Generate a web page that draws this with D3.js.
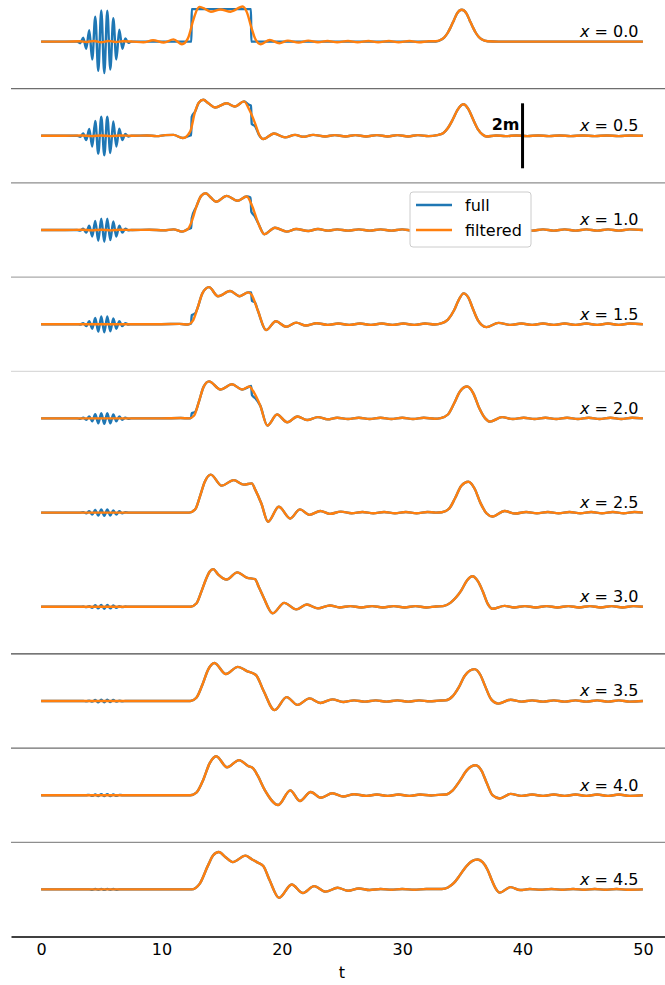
<!DOCTYPE html>
<html>
<head>
<meta charset="utf-8">
<script src="https://cdn.jsdelivr.net/npm/d3@7"></script>
<style>
  html, body { margin: 0; padding: 0; background: #fff; }
  svg { display: block; font-family: "DejaVu Sans", sans-serif; }
</style>
</head>
<body>
<div id="chart"></div>
<script>
// Stations along the channel, one panel each
const positions = [0.0, 0.5, 1.0, 1.5, 2.0, 2.5, 3.0, 3.5, 4.0, 4.5];
const xTicks = [0, 10, 20, 30, 40, 50];
const seriesNames = ["full", "filtered"];
const seriesColors = ["#1f77b4", "#ff7f0e"];
// shade of the rule under each panel (last one is the time axis)
const ruleShades = ["#6e6e6e", "#8e8e8e", "#aaaaaa", "#dadada", "#ffffff", "#ffffff", "#484848", "#6e6e6e", "#8e8e8e"];

// High-frequency packet of the full signal: sample times and values per station
const packetT = [3.0, 3.25, 3.5, 3.75, 4.0, 4.25, 4.5, 4.75, 5.0, 5.25, 5.5, 5.75, 6.0, 6.25, 6.5, 6.75, 7.0, 7.25, 7.5];
const packet0 = [0, -0.05, 0.12, -0.22, 0.35, -0.55, 0.77, -0.9, 0.96, -0.97, 0.95, -0.86, 0.72, -0.55, 0.37, -0.22, 0.1, -0.04, 0];
const packet1 = [0, -0.03, 0.07, -0.13, 0.21, -0.33, 0.46, -0.55, 0.59, -0.6, 0.59, -0.53, 0.44, -0.33, 0.22, -0.13, 0.06, -0.02, 0];
const packet2 = [0, -0.02, 0.04, -0.08, 0.13, -0.2, 0.28, -0.33, 0.35, -0.36, 0.35, -0.31, 0.26, -0.2, 0.13, -0.08, 0.04, -0.01, 0];
const packet3 = [0, -0.01, 0.03, -0.06, 0.09, -0.14, 0.19, -0.23, 0.24, -0.25, 0.24, -0.22, 0.18, -0.14, 0.09, -0.06, 0.03, -0.01, 0];
const packet4 = [0, -0.01, 0.02, -0.04, 0.06, -0.09, 0.13, -0.15, 0.16, -0.17, 0.16, -0.15, 0.12, -0.09, 0.06, -0.04, 0.02, -0.01, 0];
const packet5 = [0, 0, 0.01, -0.02, 0.04, -0.06, 0.08, -0.09, 0.1, -0.1, 0.1, -0.09, 0.07, -0.06, 0.04, -0.02, 0.01, 0, 0];
const packet6 = [0, 0, 0.01, -0.01, 0.02, -0.03, 0.05, -0.05, 0.06, -0.06, 0.06, -0.05, 0.04, -0.03, 0.02, -0.01, 0.01, 0, 0];
const packet7 = [0, 0, 0, -0.01, 0.01, -0.02, 0.03, -0.04, 0.04, -0.04, 0.04, -0.03, 0.03, -0.02, 0.01, -0.01, 0, 0, 0];
const packet8 = [0, 0, 0, 0, 0.01, -0.02, 0.02, -0.03, 0.03, -0.03, 0.03, -0.03, 0.02, -0.02, 0.01, 0, 0, 0, 0];
const packet9 = [0, 0, 0, 0, 0, -0.01, 0.01, -0.01, 0.015, -0.015, 0.015, -0.01, 0.01, -0.01, 0, 0, 0, 0, 0];

// Full signal at the inlet (box + gaussian, packet added separately)
const fullInlet = [[0,0],[2.9,0],[7.6,0],[12.49,0],[12.51,1.0],[17.44,1.0],[17.46,0],[32.8,0],[33.3,0.07],[33.55,0.15],[33.8,0.28],[34.05,0.46],[34.3,0.66],[34.55,0.86],[34.95,0.98],[35.35,0.86],[35.6,0.66],[35.85,0.46],[36.1,0.28],[36.35,0.15],[36.6,0.07],[37.1,0.01],[38,0],[50,0]];

// Filtered signal, [t, elevation] per station
const filtered0 = [[0,0],[2,0],[3.2,0.01],[3.8,-0.01],[4.4,0.02],[5.0,-0.02],[5.6,0.02],[6.2,-0.01],[6.8,0.01],[7.6,0],[8.5,-0.02],[9.3,0.04],[10.2,-0.03],[11.0,0.07],[11.7,-0.08],[12.2,0.1],[12.65,0.67],[12.95,0.98],[13.15,1.07],[13.5,1.03],[14.1,0.92],[14.9,0.99],[15.75,0.92],[16.75,1.08],[17.1,0.9],[17.45,0.46],[17.8,0.08],[18.25,-0.08],[19.0,0.05],[19.8,-0.05],[20.5,0.03],[21.4,-0.03],[22.2,0.03],[23.0,-0.02],[23.8,0.02],[24.6,-0.02],[25.5,0.02],[26.3,-0.02],[27.2,0.02],[28.0,-0.02],[28.9,0.02],[29.7,-0.02],[30.6,0.02],[31.4,-0.02],[32.2,0.01],[32.8,0.01],[33.3,0.07],[33.55,0.15],[33.8,0.28],[34.05,0.46],[34.3,0.66],[34.55,0.86],[34.95,0.98],[35.35,0.86],[35.6,0.66],[35.85,0.46],[36.1,0.28],[36.35,0.15],[36.6,0.07],[37.1,0.01],[38,0],[44,0],[50,0]];
const filtered1 = [[0,0],[2,0],[3.4,0.01],[4.2,-0.01],[5.0,0.01],[5.8,-0.01],[6.6,0.01],[7.6,0],[8.8,0.01],[9.6,-0.01],[10.3,0.02],[11.0,0.03],[11.77,-0.07],[12.38,0.13],[12.8,0.75],[13.1,1.02],[13.48,1.11],[13.9,1.0],[14.45,0.87],[15.42,1.0],[16.1,0.9],[16.86,1.06],[17.3,0.8],[17.77,0.39],[18.1,0.05],[18.46,-0.1],[19.35,0.07],[20.27,-0.05],[21.1,0.03],[21.8,-0.03],[22.6,0.03],[23.6,-0.02],[24.4,0.02],[25.3,-0.02],[26.1,0.02],[27.0,-0.02],[27.9,0.02],[28.8,-0.02],[29.6,0.02],[30.5,-0.02],[31.3,0.02],[32.2,-0.01],[32.9,0.02],[33.4,0.08],[33.8,0.24],[34.2,0.5],[34.6,0.8],[35.08,0.97],[35.5,0.82],[35.9,0.5],[36.3,0.2],[36.7,0.03],[37.0,-0.02],[37.8,0.01],[38.6,-0.01],[39.5,0.01],[40.4,-0.01],[41.3,0.01],[42.2,-0.01],[43.1,0.01],[44,-0.01],[45,0.01],[46,-0.01],[47,0.01],[48,-0.01],[49,0.01],[50,0]];
const filtered2 = [[0,0],[2,0],[3.4,0.01],[4.2,-0.01],[5.0,0.01],[5.8,-0.01],[6.6,0.01],[7.6,0],[9.0,0.01],[10.2,-0.01],[11.0,0.02],[11.7,-0.05],[12.2,0.03],[12.5,0.25],[12.9,0.72],[13.3,1.05],[13.68,1.13],[14.1,1.0],[14.53,0.87],[15.42,1.05],[16.3,0.9],[17.08,1.03],[17.5,0.77],[18.05,0.2],[18.55,-0.13],[19.43,0.07],[20.4,-0.05],[21.2,0.03],[22.2,-0.03],[23.0,0.03],[23.85,-0.02],[24.6,0.02],[25.5,-0.02],[26.4,0.02],[27.3,-0.02],[28.2,0.02],[29.1,-0.02],[30.0,0.02],[30.9,-0.02],[31.8,0.02],[32.6,-0.01],[33.2,0.03],[33.7,0.15],[34.2,0.45],[34.7,0.82],[35.2,0.96],[35.7,0.78],[36.2,0.4],[36.7,0.1],[37.2,-0.05],[38.1,0.03],[39.0,-0.02],[39.9,0.02],[40.8,-0.02],[41.7,0.02],[42.6,-0.02],[43.5,0.02],[44.4,-0.02],[45.3,0.02],[46.2,-0.02],[47.1,0.02],[48,-0.02],[48.9,0.02],[50,0]];
const filtered3 = [[0,0],[3,0],[7.6,0],[10,0],[11.5,0.01],[12.2,-0.01],[12.6,0.1],[13.0,0.5],[13.4,0.95],[13.95,1.14],[14.7,0.86],[15.7,1.02],[16.5,0.86],[17.2,0.98],[17.5,0.9],[18.0,0.43],[18.7,-0.18],[19.5,0.09],[20.35,-0.08],[21.2,0.05],[22.0,-0.04],[22.9,0.03],[23.8,-0.02],[24.7,0.02],[25.6,-0.02],[26.5,0.02],[27.4,-0.02],[28.3,0.02],[29.2,-0.02],[30.1,0.02],[31.0,-0.02],[31.9,0.02],[32.7,-0.01],[33.3,0.03],[33.8,0.14],[34.3,0.42],[34.7,0.75],[35.1,0.95],[35.5,0.82],[35.9,0.45],[36.3,0.12],[36.6,-0.02],[37.0,-0.09],[38.0,0.04],[39.0,-0.02],[39.9,0.02],[40.8,-0.02],[41.7,0.02],[42.6,-0.02],[43.5,0.02],[44.4,-0.02],[45.3,0.02],[46.2,-0.02],[47.1,0.02],[48,-0.02],[48.9,0.02],[50,0]];
const filtered4 = [[0,0],[3,0],[7.6,0],[10,0],[11.6,0.01],[12.3,0],[12.7,0.08],[13.1,0.5],[13.5,0.97],[13.95,1.14],[14.9,0.89],[15.85,1.05],[16.7,0.89],[17.3,0.98],[17.6,0.85],[18.2,0.4],[18.8,-0.22],[19.6,0.12],[20.45,-0.12],[21.3,0.06],[22.1,-0.05],[23.0,0.04],[23.8,-0.03],[24.6,0.02],[25.5,-0.02],[26.4,0.02],[27.3,-0.02],[28.2,0.02],[29.1,-0.02],[30.0,0.02],[30.9,-0.02],[31.8,0.02],[32.7,-0.01],[33.2,0.01],[33.8,0.12],[34.3,0.45],[34.8,0.83],[35.4,0.98],[35.9,0.78],[36.4,0.32],[36.9,0.0],[37.3,-0.1],[38.3,0.04],[39.2,-0.02],[40.1,0.02],[41.0,-0.02],[41.9,0.02],[42.8,-0.02],[43.7,0.02],[44.6,-0.02],[45.5,0.02],[46.4,-0.02],[47.3,0.02],[48.2,-0.02],[49.1,0.02],[50,0]];
const filtered5 = [[0,0],[3,0],[7.6,0],[12.3,0],[12.8,0.1],[13.2,0.5],[13.6,0.95],[14.1,1.17],[15.0,0.83],[16.0,1.0],[16.85,0.86],[17.5,0.9],[17.8,0.7],[18.3,0.28],[18.85,-0.28],[19.75,0.18],[20.7,-0.18],[21.5,0.1],[22.3,-0.07],[23.2,0.05],[24.0,-0.04],[24.9,0.03],[25.8,-0.02],[26.7,0.02],[27.6,-0.02],[28.5,0.02],[29.4,-0.02],[30.3,0.02],[31.2,-0.02],[32.1,0.02],[32.8,0],[33.3,0.01],[33.9,0.12],[34.4,0.45],[34.9,0.82],[35.5,0.95],[36.0,0.75],[36.5,0.3],[37.0,-0.02],[37.5,-0.12],[38.5,0.05],[39.4,-0.03],[40.3,0.02],[41.2,-0.02],[42.1,0.02],[43.0,-0.02],[43.9,0.02],[44.8,-0.02],[45.7,0.02],[46.6,-0.02],[47.5,0.02],[48.4,-0.02],[49.3,0.02],[50,0]];
const filtered6 = [[0,0],[3,0],[7.6,0],[12.4,0],[12.9,0.1],[13.3,0.45],[13.7,0.85],[14.0,1.08],[14.3,1.16],[14.7,1.0],[15.42,0.84],[16.3,1.06],[17.08,0.9],[17.77,0.85],[18.1,0.6],[18.46,0.31],[19.24,-0.2],[20.2,0.12],[21.2,-0.08],[22.07,0.07],[23.0,-0.05],[24.0,0.04],[24.8,-0.02],[25.7,0.02],[26.6,-0.02],[27.5,0.02],[28.4,-0.02],[29.3,0.02],[30.2,-0.02],[31.1,0.02],[32.0,-0.02],[32.8,0.01],[33.4,0.02],[34.0,0.12],[34.5,0.3],[34.9,0.5],[35.4,0.82],[35.85,0.94],[36.3,0.78],[36.7,0.47],[37.1,0.1],[37.5,-0.06],[38.5,0.03],[39.3,-0.02],[40.2,0.02],[41.1,-0.02],[42.0,0.02],[42.9,-0.02],[43.8,0.02],[44.7,-0.02],[45.6,0.02],[46.5,-0.02],[47.4,0.02],[48.3,-0.02],[49.2,0.02],[50,0]];
const filtered7 = [[0,0],[3,0],[7.6,0],[12.4,0],[12.9,0.1],[13.4,0.5],[13.9,0.98],[14.4,1.17],[15.35,0.83],[16.35,1.05],[17.1,0.92],[17.85,0.8],[18.5,0.3],[19.4,-0.28],[20.4,0.12],[21.3,-0.12],[22.3,0.08],[23.2,-0.06],[24.2,0.05],[25.1,-0.03],[26.0,0.02],[26.9,-0.02],[27.8,0.02],[28.7,-0.02],[29.6,0.02],[30.5,-0.02],[31.4,0.02],[32.3,-0.01],[33.0,0.01],[33.6,0.02],[34.2,0.15],[34.7,0.42],[35.2,0.78],[36.0,0.98],[36.5,0.8],[36.9,0.45],[37.4,0.05],[38.0,-0.08],[39.0,0.04],[39.9,-0.02],[40.8,0.02],[41.7,-0.02],[42.6,0.02],[43.5,-0.02],[44.4,0.02],[45.3,-0.02],[46.2,0.02],[47.1,-0.02],[48.0,0.02],[48.9,-0.02],[50,0]];
const filtered8 = [[0,0],[3,0],[7.6,0],[12.4,0],[12.9,0.08],[13.5,0.5],[14.0,0.98],[14.55,1.2],[15.45,0.86],[16.45,1.08],[17.2,0.9],[17.6,0.83],[18.0,0.6],[18.6,0.15],[19.7,-0.3],[20.7,0.15],[21.5,-0.18],[22.4,0.1],[23.25,-0.08],[24.2,0.06],[25.1,-0.04],[26.0,0.03],[27.0,-0.02],[27.9,0.02],[28.8,-0.02],[29.7,0.02],[30.6,-0.02],[31.5,0.02],[32.4,-0.01],[33.0,0.01],[33.6,0.02],[34.2,0.15],[34.8,0.45],[35.4,0.78],[36.1,0.92],[36.6,0.75],[37.0,0.4],[37.5,0.0],[38.1,-0.1],[39.0,0.04],[39.9,-0.02],[40.8,0.02],[41.7,-0.02],[42.6,0.02],[43.5,-0.02],[44.4,0.02],[45.3,-0.02],[46.2,0.02],[47.1,-0.02],[48.0,0.02],[48.9,-0.02],[50,0]];
const filtered9 = [[0,0],[3,0],[7.6,0],[12.5,0],[13.17,0.17],[13.87,0.74],[14.3,1.05],[14.76,1.15],[15.3,1.0],[15.92,0.84],[16.98,1.04],[17.5,0.93],[17.93,0.84],[18.46,0.72],[18.99,0.28],[19.77,-0.26],[20.82,0.15],[21.74,-0.11],[22.69,0.1],[23.65,-0.07],[24.63,0.05],[25.5,-0.04],[26.4,0.03],[27.3,-0.02],[28.2,0.01],[29.1,-0.01],[30.0,0.01],[31,-0.01],[32,0.01],[33.3,0.01],[33.8,0.06],[34.3,0.2],[34.8,0.44],[35.3,0.7],[35.8,0.87],[36.27,0.92],[36.7,0.83],[37.1,0.6],[37.45,0.28],[37.75,0.04],[38.1,-0.1],[39.0,0.07],[39.8,-0.02],[40.6,0.01],[41.5,-0.01],[42.4,0.01],[43.3,-0.01],[44.2,0.01],[45.1,-0.01],[46,0.01],[46.9,-0.01],[47.8,0.01],[48.7,-0.01],[50,0]];

// Sharp box edges of the full signal where they still show beside the filtered one
const edges1 = [[[12.3,0],[12.46,0.02],[12.52,0.58],[12.8,0.75]], [[17.3,0.95],[17.44,0.93],[17.5,0.36],[17.77,0.3],[18.1,0.03]]];
const edges2 = [[[12.2,0.03],[12.46,0.06],[12.52,0.36],[12.9,0.72]], [[17.08,1.03],[17.4,1.0],[17.47,0.56],[17.7,0.45],[18.05,0.2]]];
const edges3 = [[[12.2,-0.01],[12.46,0.02],[12.52,0.28],[12.8,0.33],[13.0,0.5]], [[17.2,0.98],[17.45,0.98],[17.52,0.72],[17.75,0.68],[18.0,0.43]]];
const edges4 = [[[12.3,0],[12.46,0.02],[12.52,0.16],[12.8,0.2],[13.1,0.5]], [[17.3,0.98],[17.45,1.0],[17.52,0.72],[17.8,0.62],[18.2,0.4]]];

const filteredAll = [filtered0, filtered1, filtered2, filtered3, filtered4, filtered5, filtered6, filtered7, filtered8, filtered9];
const packets = [packet0, packet1, packet2, packet3, packet4, packet5, packet6, packet7, packet8, packet9];
const edgesAll = [[], edges1, edges2, edges3, edges4, [], [], [], [], []];

// Assemble the full series: underlying trace, with the packet and box edges spliced in
function fullSeries(k) {
  const base = k === 0 ? fullInlet : filteredAll[k];
  const pieces = [packetT.map((t, i) => [t, packets[k][i]]), ...edgesAll[k]];
  const windows = pieces.map(p => [p[0][0], p[p.length - 1][0]]);
  const kept = base.filter(([t]) => !windows.some(([a, b]) => t >= a && t <= b));
  return kept.concat(...pieces).sort((a, b) => a[0] - b[0]);
}

const W = 665, H = 985;
const top0 = -5.5, pitch = 94.2;

const svg = d3.select("#chart").append("svg")
  .attr("width", W).attr("height", H).attr("viewBox", `0 0 ${W} ${H}`);

const x = d3.scaleLinear().domain([-2.5, 52.5]).range([11, 673]);
const y = d3.scaleLinear().domain([-1.45, 1.45]).range([pitch, 0]);

const line = d3.line()
  .x(d => x(d[0]))
  .y(d => y(d[1]))
  .curve(d3.curveMonotoneX);

positions.forEach((pos, k) => {
  const g = svg.append("g").attr("transform", `translate(0,${top0 + pitch * k})`);

  // bottom rule of the panel
  if (k < positions.length - 1) {
    g.append("line")
      .attr("x1", 11).attr("x2", W)
      .attr("y1", pitch).attr("y2", pitch)
      .attr("stroke", ruleShades[k]).attr("stroke-width", 1.3);
  }

  g.append("path")
    .datum(fullSeries(k))
    .attr("fill", "none")
    .attr("stroke", seriesColors[0])
    .attr("stroke-width", 2.4)
    .attr("stroke-linejoin", "round")
    .attr("d", line);

  g.append("path")
    .datum(filteredAll[k])
    .attr("fill", "none")
    .attr("stroke", seriesColors[1])
    .attr("stroke-width", 2.4)
    .attr("stroke-linejoin", "round")
    .attr("d", line);

  const lbl = g.append("text")
    .attr("x", 638.5)
    .attr("y", y(0) - 4.5)
    .attr("text-anchor", "end")
    .attr("font-size", 16)
    .attr("fill", "#000");
  lbl.append("tspan").attr("font-style", "italic").text("x");
  lbl.append("tspan").text(" = " + pos.toFixed(1));

  // 2 m scale bar in the second panel
  if (k === 1) {
    g.append("line")
      .attr("x1", x(40)).attr("x2", x(40))
      .attr("y1", y(-1)).attr("y2", y(1))
      .attr("stroke", "#000").attr("stroke-width", 3);
    g.append("text")
      .attr("x", x(40) - 3)
      .attr("y", y(0) - 6)
      .attr("text-anchor", "end")
      .attr("font-size", 16)
      .attr("font-weight", "bold")
      .text("2m");
  }
});

// time axis
const axisY = top0 + pitch * positions.length;
const axis = svg.append("g")
  .attr("transform", `translate(0,${axisY})`)
  .call(d3.axisBottom(x).tickValues(xTicks).tickSize(0).tickPadding(7).tickFormat(d3.format("d")));
axis.select(".domain").attr("stroke", "#000").attr("stroke-width", 1.3);
axis.selectAll("text").attr("font-size", 16).attr("font-family", "DejaVu Sans, sans-serif").attr("fill", "#000");

svg.append("text")
  .attr("x", x(25))
  .attr("y", 978)
  .attr("text-anchor", "middle")
  .attr("font-size", 16)
  .text("t");

// legend
const leg = svg.append("g").attr("transform", "translate(410,192)");
leg.append("rect")
  .attr("width", 121).attr("height", 55)
  .attr("rx", 3)
  .attr("fill", "#fff")
  .attr("stroke", "#cccccc").attr("stroke-width", 1);
seriesNames.forEach((name, i) => {
  const ry = 13 + i * 25;
  leg.append("line")
    .attr("x1", 6).attr("x2", 42)
    .attr("y1", ry).attr("y2", ry)
    .attr("stroke", seriesColors[i]).attr("stroke-width", 2.4);
  leg.append("text")
    .attr("x", 55).attr("y", ry + 6)
    .attr("font-size", 16)
    .text(name);
});
</script>
</body>
</html>
